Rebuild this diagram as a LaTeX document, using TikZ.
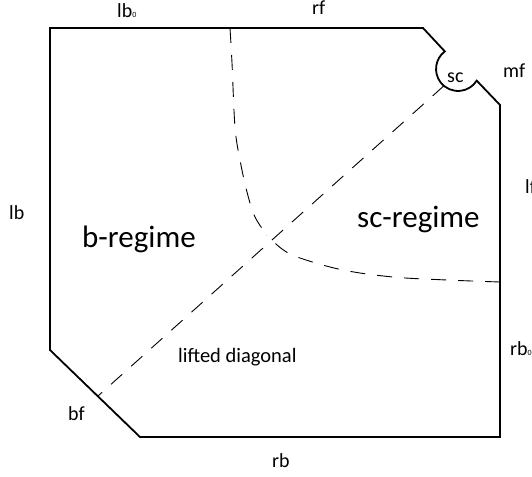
\documentclass[tikz,border=0pt]{standalone}
\usepackage{fontspec}
\setmainfont{Carlito}
\usetikzlibrary{calc}
\begin{document}
\begin{tikzpicture}[x=1pt,y=-1pt,
  lbl/.style={inner sep=0pt,anchor=base west,font=\fontsize{20}{22}\selectfont},
  big/.style={inner sep=0pt,anchor=base west,font=\fontsize{31}{34}\selectfont},
  mid/.style={inner sep=0pt,anchor=base west,font=\fontsize{20.5}{23}\selectfont},
  border/.style={line width=1.8pt,line join=miter},
  guide/.style={line width=0.9pt,dash pattern=on 15pt off 12pt}]
\path[use as bounding box] (0,0) rectangle (532,476);
\clip (0,0) rectangle (532,476);
% corners of the region
\coordinate (TL) at (50,28);
\coordinate (TR) at (423,28);
\coordinate (A1) at (444.8,51.4);
\coordinate (A2) at (476.7,80.7);
\coordinate (RT) at (500,105);
\coordinate (BR) at (500,437);
\coordinate (BB) at (140,437);
\coordinate (BL) at (50,350);
\draw[border] (TL) -- (TR) -- (A1) arc[start angle=233,end angle=32,radius=22] -- (RT) -- (BR) -- (BB) -- (BL) -- cycle;
% lifted diagonal
\coordinate (D1) at ($(458,69)+(130:22)$);
\coordinate (D0) at (98,396);
\draw[guide] (D1) -- (D0);
% curved boundary between the regimes
\coordinate (C0) at (230,28);
\coordinate (CM) at (267,235);
\coordinate (C1) at (500,282);
\draw[guide] plot[smooth,tension=0.6] coordinates {(230,28) (232,63) (235,127) (240,160) (247,192) (255,217) (267,235)};
\draw[guide] plot[smooth,tension=0.6] coordinates {(500,282) (447,280) (393,277) (343,270) (300,258) (282,249) (267,235)};
% labels
\node[lbl] (lb0) at (117,18) {lb{\fontsize{8}{8}\selectfont 0}};
\node[lbl] (rf) at (312,15) {rf};
\node[lbl] (sc) at (447,83) {sc};
\node[lbl] (mf) at (503,78) {mf};
\node[lbl] (lf) at (525,193) {lf};
\node[lbl] (rb0) at (510,355) {rb{\fontsize{8}{8}\selectfont 0}};
\node[lbl] (lb) at (9,219) {lb};
\node[lbl] (bf) at (68,420) {bf};
\node[lbl] (rb) at (272,467) {rb};
\node[big] (breg) at (82,247) {b-regime};
\node[big] (screg) at (357,227) {sc-regime};
\node[mid] (ld) at (178,362) {lifted diagonal};
\end{tikzpicture}
\end{document}
